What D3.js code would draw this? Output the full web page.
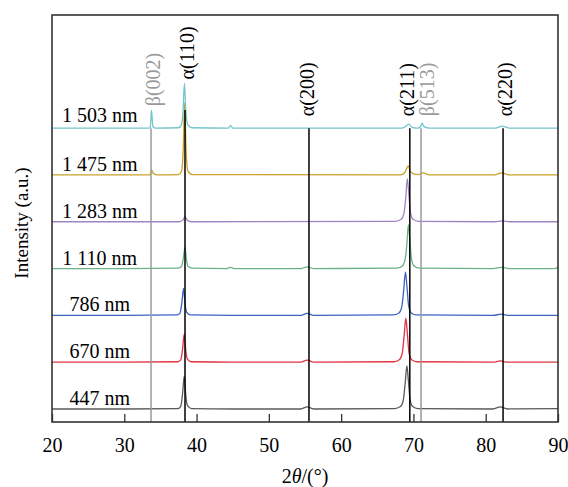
<!DOCTYPE html>
<html>
<head>
<meta charset="utf-8">
<script src="https://cdn.jsdelivr.net/npm/d3@7"></script>
<style>
  body { margin: 0; background: #fff; }
  text { font-family: "Liberation Serif", "Times New Roman", serif; }
</style>
</head>
<body>
<svg id="my_svg"></svg>
<script>
const width = 568;
const height = 487;

// samples, bottom to top
const samples = ['447 nm', '670 nm', '786 nm', '1 110 nm', '1 283 nm', '1 475 nm', '1 503 nm'];
const offsets = [0, 115, 230, 345, 460, 575, 690];
const lineColors = ['#595959', '#e0323f', '#3d63c0', '#6cb188', '#a083c2', '#c8a126', '#74c5cb'];

// [2θ, intensity above baseline]
const pattern447 = [[20, 0], [30, 0], [37.4, 1], [37.8, 6], [38.05, 35], [38.3, 81], [38.5, 35], [38.75, 8], [39.3, 1], [45, 0],
  [54.4, 0], [55.3, 5], [56.2, 0], [67.4, 1], [68.2, 6], [68.6, 22], [68.85, 62], [69.1, 106], [69.3, 70], [69.55, 22],
  [69.9, 6], [70.6, 1], [81, 0], [82, 5], [83, 0], [90, 1]];
const pattern670 = [[20, 0], [30, 0], [37.4, 1], [37.8, 5], [38.05, 30], [38.3, 69], [38.5, 30], [38.75, 7], [39.3, 1], [45, 0],
  [54.4, 0], [55.3, 5], [56.2, 0], [67.3, 1], [68.05, 6], [68.45, 22], [68.7, 62], [68.95, 108], [69.15, 72], [69.4, 22],
  [69.75, 6], [70.5, 1], [81, 0], [82, 3], [83, 0], [90, 0]];
const pattern786 = [[20, 0], [30, 0], [37.3, 1], [37.7, 5], [37.95, 29], [38.2, 66], [38.4, 29], [38.65, 7], [39.2, 1], [45, 0],
  [54.4, 0], [55.3, 5], [56.2, 0], [67.2, 1], [68.0, 6], [68.4, 22], [68.65, 62], [68.9, 106], [69.1, 72], [69.35, 22],
  [69.7, 6], [70.4, 1], [81, 0], [82.2, 3], [83.2, 0], [90, 0]];
const pattern1110 = [[20, 0], [30, 0], [37.5, 1], [37.9, 5], [38.15, 24], [38.4, 52], [38.6, 22], [38.85, 5], [39.4, 1],
  [44.2, 0], [44.7, 3], [45.2, 0], [54.4, 0], [55.3, 4], [56.2, 0], [67.7, 1], [68.45, 6], [68.85, 22], [69.1, 62],
  [69.3, 108], [69.5, 70], [69.75, 22], [70.1, 6], [70.8, 1], [81, 0], [82.2, 3], [83.2, 0], [89.5, 0], [90, 3]];
const pattern1283 = [[20, 0], [30, 0], [37.6, 0], [38.1, 4], [38.4, 12], [38.7, 4], [39.3, 0], [67.5, 1], [68.3, 6],
  [68.7, 22], [68.95, 62], [69.15, 106], [69.35, 72], [69.6, 22], [69.95, 6], [70.7, 1], [81.2, 0], [82.3, 2],
  [83.3, 0], [90, 0]];
const pattern1475 = [[20, 0], [33.55, 0], [33.8, 12], [34.0, 4], [34.5, 0], [37.5, 1], [37.9, 8], [38.15, 60], [38.35, 177],
  [38.55, 60], [38.8, 10], [39.4, 1], [68.2, 0], [68.8, 6], [69.3, 22], [69.6, 8], [70.1, 2], [70.7, 1], [71.3, 5],
  [72.2, 0], [81.2, 0], [82.2, 5], [83.2, 0], [90, 0]];
const pattern1503 = [[20, 0], [33.45, 0], [33.6, 4], [33.77, 44], [33.95, 4], [34.3, 0], [37.5, 1], [37.9, 8], [38.12, 40],
  [38.32, 110], [38.52, 40], [38.8, 8], [39.4, 1], [44.4, 0], [44.7, 7], [45.0, 0], [68.4, 0], [68.9, 4], [69.35, 10],
  [69.8, 2], [70.6, 0], [71.0, 4], [71.2, 12], [71.5, 3], [72.2, 0], [81.3, 0], [82.3, 5], [83.3, 0], [90, 0]];
const patterns = [pattern447, pattern670, pattern786, pattern1110, pattern1283, pattern1475, pattern1503];

// reference peaks
const peakNames = ['β(002)', 'α(110)', 'α(200)', 'α(211)', 'β(513)', 'α(220)'];
const peakPos = [33.7, 38.4, 55.55, 69.5, 71.05, 82.4];

const xTicks = [20, 30, 40, 50, 60, 70, 80, 90];

const margin = { left: 52, right: 10, top: 15, bottom: 65 };

const svg = d3.select('#my_svg')
  .attr('width', width)
  .attr('height', height);

const xScale = d3.scaleLinear()
  .domain([20, 90])
  .range([margin.left, width - margin.right]);

const yScale = d3.scaleLinear()
  .domain([-32, 968])
  .range([height - margin.bottom, margin.top]);

const y0 = height - margin.bottom;
const yTop = margin.top;

// curves
const line = d3.line()
  .x(d => xScale(d[0]))
  .y(d => d[1])
  .curve(d3.curveMonotoneX);

patterns.forEach((p, i) => {
  svg.append('path')
    .attr('d', line(p.map(d => [d[0], yScale(d[1] + offsets[i])])))
    .attr('fill', 'none')
    .attr('stroke', lineColors[i])
    .attr('stroke-width', 1.3);

  svg.append('text')
    .attr('x', xScale(26.6))
    .attr('y', yScale(offsets[i]) - (i == 6 ? 6 : 4))
    .attr('text-anchor', 'middle')
    .attr('font-size', 20)
    .text(samples[i]);
});

// peak marker lines and labels
const topPattern = pattern1503;
peakNames.forEach((name, i) => {
  const isBeta = name[0] == 'β';
  const col = isBeta ? '#9a9a9a' : '#000';
  // highest point of the top pattern near this peak
  const near = topPattern.filter(d => Math.abs(d[0] - peakPos[i]) < 0.45);
  const peakY = yScale(offsets[6] + (d3.max(near, d => d[1]) || 0));
  const lineTop = name == 'α(110)' ? 110 : yScale(offsets[6]);
  svg.append('line')
    .attr('x1', xScale(peakPos[i]))
    .attr('x2', xScale(peakPos[i]))
    .attr('y1', lineTop)
    .attr('y2', y0)
    .attr('stroke', col)
    .attr('stroke-width', 1.5);

  const lx = xScale(peakPos[i]) + (name == 'β(513)' ? 6 : name == 'α(211)' ? -3 : name == 'α(200)' ? -2 : 2);
  const ly = Math.min(peakY - 4, yScale(offsets[6]) - 12);
  svg.append('text')
    .attr('transform', `translate(${lx},${ly}) rotate(-90)`)
    .attr('dy', '0.35em')
    .attr('font-size', 20)
    .attr('fill', col)
    .text(name);
});

// frame
svg.append('rect')
  .attr('x', margin.left)
  .attr('y', yTop)
  .attr('width', width - margin.left - margin.right)
  .attr('height', y0 - yTop)
  .attr('fill', 'none')
  .attr('stroke', '#333')
  .attr('stroke-width', 1.6);

// bottom axis, ticks inside
const xAxis = d3.axisBottom(xScale)
  .tickValues(xTicks)
  .tickSize(-8)
  .tickPadding(16)
  .tickFormat(d3.format('d'));

const gx = svg.append('g')
  .attr('transform', `translate(0, ${y0})`)
  .call(xAxis);
gx.select('.domain').remove();
gx.selectAll('line').attr('stroke', '#333').attr('stroke-width', 1.3);
gx.selectAll('text')
  .attr('font-size', 20)
  .attr('fill', '#000')
  .style('font-family', '"Liberation Serif", serif');

// axis titles
const title = svg.append('text')
  .attr('x', (margin.left + width - margin.right) / 2)
  .attr('y', 483)
  .attr('text-anchor', 'middle')
  .attr('font-size', 20);
title.append('tspan').text('2');
title.append('tspan').attr('font-style', 'italic').text('θ');
title.append('tspan').text('/(°)');

svg.append('text')
  .attr('transform', 'translate(28, 223) rotate(-90)')
  .attr('text-anchor', 'middle')
  .attr('font-size', 19)
  .text('Intensity (a.u.)');
</script>
</body>
</html>
